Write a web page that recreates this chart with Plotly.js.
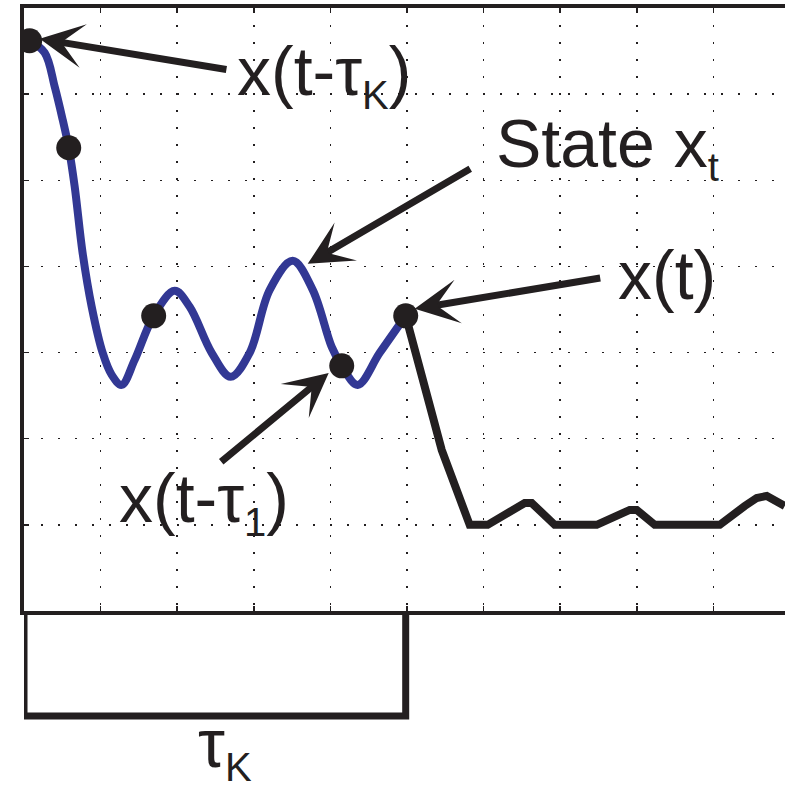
<!DOCTYPE html>
<html>
<head>
<meta charset="utf-8">
<script src="https://cdn.plot.ly/plotly-3.0.1.min.js"></script>
<style>html,body{margin:0;padding:0;background:#fff;overflow:hidden}#chart{width:785px;height:790px}</style>
</head>
<body>
<div id="chart"></div>
<script>
// State trajectory x_t (blue, the delay window)
const stateX = [0.074, 0.270, 0.401, 0.505, 0.584, 0.662, 0.765, 0.884, 1.027, 1.145, 1.275, 1.445, 1.693, 1.967, 2.163, 2.450, 2.698, 2.946, 3.208, 3.508, 3.769, 4.017, 4.148, 4.357, 4.644, 4.983];
const stateY = [6.620, 6.481, 6.086, 5.703, 5.378, 4.925, 4.158, 3.531, 2.997, 2.741, 2.625, 2.915, 3.426, 3.717, 3.531, 2.997, 2.718, 2.997, 3.728, 4.065, 3.728, 3.066, 2.846, 2.625, 2.997, 3.426];
// Future trajectory (black)
const futureX = [4.983, 5.24, 5.453, 5.818, 6.053, 6.537, 6.628, 6.928, 7.477, 7.908, 7.999, 8.234, 9.083, 9.409, 9.566, 9.697, 9.932];
const futureY = [3.426, 2.62, 1.870, 1.000, 1.000, 1.254, 1.254, 1.000, 1.000, 1.173, 1.173, 1.000, 1.000, 1.219, 1.312, 1.336, 1.219];
// Sampled points on the state
const dotX = [0.074, 0.584, 1.693, 4.148, 4.983];
const dotY = [6.620, 5.378, 3.426, 2.846, 3.426];
// Delay window length
const tauK = 4.983;
const subStyle = 'font-size:40px';
const labels = [
  `x(t-τ<sub><span style="${subStyle}">K</span></sub>)`,
  `State x<sub><span style="${subStyle}">t</span></sub>`,
  'x(t)',
  `x(t-τ<sub><span style="${subStyle}">1</span></sub>)`,
  `τ<sub><span style="${subStyle}">K</span></sub>`
];

const ink = '#231f20';
const blue = '#323894';
const font = {family: 'Liberation Sans, Arial, sans-serif', size: 68, color: ink};

const traces = [
  {x: stateX, y: stateY, mode: 'lines', line: {color: blue, width: 8, shape: 'spline', smoothing: 1}, hoverinfo: 'skip'},
  {x: futureX, y: futureY, mode: 'lines', line: {color: ink, width: 8}, hoverinfo: 'skip'},
  {x: dotX, y: dotY, mode: 'markers', marker: {color: ink, size: 25}, hoverinfo: 'skip'}
];

function arrow(tx, ty, axv, ayv) {
  return {x: tx, y: ty, ax: axv, ay: ayv, xref: 'x', yref: 'y', axref: 'x', ayref: 'y',
    text: '', showarrow: true, arrowhead: 3, arrowsize: 1.05, arrowwidth: 7, arrowcolor: ink, standoff: 0};
}
function label(txt, x, y, xref, yref) {
  return {x: x, y: y, xref: xref, yref: yref, text: txt, showarrow: false, font: font, xanchor: 'center', yanchor: 'middle'};
}

const layout = {
  width: 785, height: 790,
  margin: {l: 24, r: 0, t: 8, b: 179},
  paper_bgcolor: '#fff', plot_bgcolor: '#fff',
  showlegend: false,
  xaxis: {range: [0, 761 / 76.6], dtick: 1, tick0: 0, showticklabels: false, ticks: 'inside', ticklen: 5, tickwidth: 1.5, tickcolor: ink,
    showgrid: true, gridcolor: ink, gridwidth: 1.5, griddash: '1.5px,15.5px', zeroline: false,
    showline: true, linecolor: ink, linewidth: 4, mirror: 'ticks', fixedrange: true},
  yaxis: {range: [0, 7], dtick: 1, tick0: 0, showticklabels: false, ticks: 'inside', ticklen: 5, tickwidth: 1.5, tickcolor: ink,
    showgrid: true, gridcolor: ink, gridwidth: 1.5, griddash: '1.5px,15.5px', zeroline: false,
    showline: true, linecolor: ink, linewidth: 4, mirror: false, fixedrange: true},
  shapes: [
    {type: 'path', xref: 'x', yref: 'paper', path: `M0,0 L0,-0.174 L${tauK},-0.174 L${tauK},0`,
      line: {color: ink, width: 7}, fillcolor: 'rgba(0,0,0,0)'}
  ],
  annotations: [
    arrow(0.205, 6.643, 2.662, 6.283),
    arrow(3.704, 4.030, 5.845, 5.145),
    arrow(5.100, 3.508, 7.542, 3.868),
    arrow(3.978, 2.764, 2.555, 1.719),
    label(labels[0], 3.913, 6.225, 'x', 'y'),
    label(labels[1], 7.620, 5.389, 'x', 'y'),
    label(labels[2], 8.397, 3.902, 'x', 'y'),
    label(labels[3], 2.346, 1.266, 'x', 'y'),
    label(labels[4], 2.620, -0.226, 'x', 'paper')
  ]
};

Plotly.newPlot('chart', traces, layout, {displayModeBar: false, staticPlot: true});
</script>
</body>
</html>
